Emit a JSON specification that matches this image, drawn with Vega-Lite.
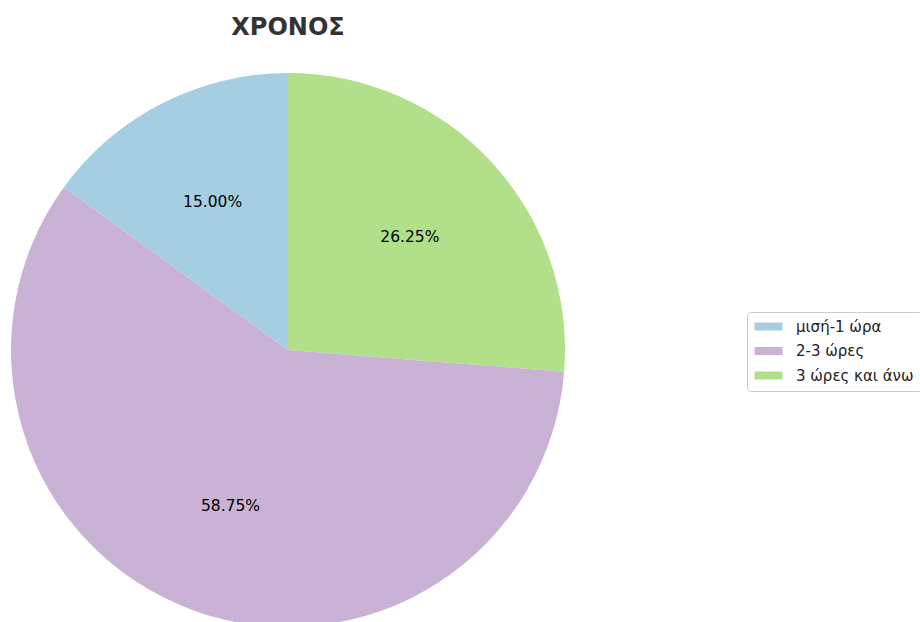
{
  "$schema": "https://vega.github.io/schema/vega-lite/v6.json",
  "width": 576,
  "height": 600,
  "autosize": {"type": "none"},
  "padding": {"left": 0, "top": 50, "right": 344, "bottom": 0},
  "background": "white",
  "config": {"view": {"stroke": null}, "font": "DejaVu Sans"},
  "title": {
    "text": "ΧΡΟΝΟΣ",
    "anchor": "middle",
    "frame": "group",
    "font": "DejaVu Sans",
    "fontSize": 24,
    "fontWeight": "bold",
    "color": "#333333",
    "offset": -9,
    "baseline": "alphabetic"
  },
  "data": {
    "values": [
      {"category": "3 ώρες και άνω", "pct": 26.25, "label": "26.25%", "ord": 1},
      {"category": "2-3 ώρες", "pct": 58.75, "label": "58.75%", "ord": 2},
      {"category": "μισή-1 ώρα", "pct": 15.0, "label": "15.00%", "ord": 3}
    ]
  },
  "encoding": {
    "theta": {"field": "pct", "type": "quantitative", "stack": true},
    "order": {"field": "ord", "type": "quantitative"}
  },
  "layer": [
    {
      "mark": {"type": "arc", "radius": 277},
      "encoding": {
        "color": {
          "field": "category",
          "type": "nominal",
          "scale": {
            "domain": ["μισή-1 ώρα", "2-3 ώρες", "3 ώρες και άνω"],
            "range": ["#a6cee3", "#cab2d6", "#b2df8a"]
          },
          "legend": {
            "title": null,
            "orient": "none",
            "legendX": 747,
            "legendY": 262,
            "symbolType": "M-2.8,-0.8H2.8V0.8H-2.8Z",
            "symbolSize": 100,
            "symbolStrokeWidth": 0,
            "symbolOpacity": 1,
            "symbolOffset": 7,
            "labelFont": "DejaVu Sans",
            "labelFontSize": 15,
            "labelColor": "#222222",
            "labelOffset": 20,
            "rowPadding": 8.5,
            "padding": 7,
            "strokeColor": "#cccccc",
            "fillColor": "white",
            "cornerRadius": 3,
            "labelLimit": 300
          }
        }
      }
    },
    {
      "mark": {"type": "text", "radius": 166, "font": "DejaVu Sans", "fontSize": 15.5, "color": "black"},
      "encoding": {"text": {"field": "label"}}
    }
  ]
}
